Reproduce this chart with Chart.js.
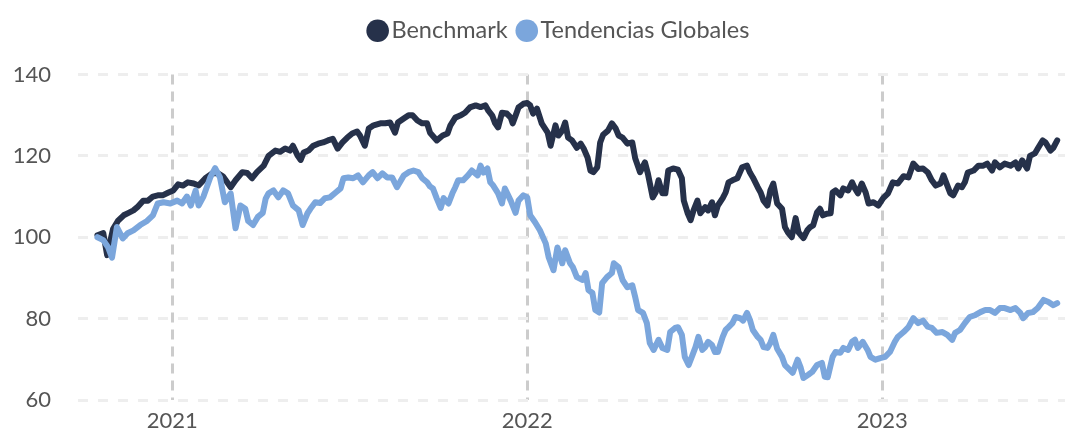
<!doctype html>
<html lang="es">
<head>
  <meta charset="utf-8">
  <title>Benchmark vs Tendencias Globales</title>
  <script src="https://cdn.jsdelivr.net/npm/chart.js"></script>
  <style>
    html, body {
      background-color: #ffffff;
      margin: 0;
      padding: 0;
    }
    #chartBox {
      width: 1070px;
      height: 434px;
    }
  </style>
</head>
<body>
  <div id="chartBox">
    <canvas id="grafico"></canvas>
  </div>

  <script>
    // Días desde el 1 de enero de 2021 y valor índice (base 100)
    const benchDays = [-77,-71,-67,-61,-56,-50,-45,-40,-36,-30,-25,-20,-15,-10,-4,1,6,11,16,22,27,34,41,47,52,60,65,72,77,82,87,94,99,106,111,116,121,124,129,132,135,140,145,150,155,160,165,170,175,180,185,190,193,198,202,207,214,219,224,229,232,238,243,247,252,257,262,265,272,278,283,286,291,296,301,306,312,317,322,325,329,332,335,339,344,348,350,353,356,361,365,368,371,375,380,386,389,394,397,401,404,407,411,416,420,423,427,430,433,437,440,443,448,452,456,459,463,468,473,476,481,486,489,494,497,500,504,507,510,515,520,524,526,530,533,536,540,543,548,551,555,558,561,566,569,572,576,581,586,591,594,597,602,605,608,612,615,618,622,627,630,633,637,641,644,649,653,656,659,663,666,669,673,677,679,682,687,690,695,699,702,705,709,713,716,721,726,731,736,741,746,752,757,762,767,772,777,781,785,790,793,797,800,803,808,812,815,818,824,829,834,838,843,846,851,856,862,867,870,874,879,882,887,890,895,898,903,906,910];
    const benchValues = [100.5,101,95.6,102,104,105.4,106,106.6,107.4,109,109,110,110.3,110.3,111,111.5,113,112.7,113.5,113.2,112.7,114.5,115.7,115.7,115,112.3,114,116,115.8,114.5,116,117.6,120,121.3,121,121.8,121.3,122.5,120,119,120.8,121.3,122.5,123,123.3,123.8,124.2,121.8,123.3,124.5,125.5,126,125,122.5,126.7,127.5,128,128,128.2,125.7,128.2,129.2,130,130,128.7,128,128,125.7,123.8,125,125.5,127.5,129.4,129.9,130.6,131.9,132.4,132,132.4,131.1,129.9,128,127,130.6,130.4,129.4,128,129.9,131.9,132.8,133,132.4,130.4,131.6,127.9,125.7,122.5,127.5,125,126.2,128.2,124.5,123.8,122,123,121.8,119.6,116.4,116,117.2,123.3,125.2,126.2,128,126.7,125,124.5,123,123.3,119.4,116,118.4,115.7,109.8,111,114,110.8,110.8,116.4,116.9,116.6,114.5,109,105.9,104.2,106.6,109,105.9,107.4,106.6,108.6,105.4,107.8,109.6,111,113.5,114,114.5,117.2,117.6,115.9,114.7,112.3,111,109,107.8,111.5,113.2,108.3,107,102.5,101.2,100,104.7,101.2,99.8,101.7,102.5,102.9,106.1,107,105.4,105.8,105.9,111,111.5,110.3,112,111.5,113.5,112,110.8,113.2,111,108.3,108.6,107.8,109.6,110.8,113.5,113.2,115,114.7,118.1,116.8,116.9,115.9,114,112.7,113.2,115.2,112.7,110.8,110.3,112.7,112.3,113.5,115.9,116.4,117.6,117.6,118.1,116.4,118.4,117.2,118.1,117.6,118.4,116.9,118.9,116.9,120,120.6,121.8,123.8,123.3,121.3,122,123.8];

    const trendDays = [-77,-71,-66,-62,-57,-51,-46,-40,-33,-26,-20,-15,-9,-2,5,10,15,19,24,27,32,39,44,49,54,60,65,70,75,78,83,88,93,96,99,104,109,114,119,124,130,134,139,142,147,152,157,162,168,173,176,181,186,191,196,202,206,211,216,221,226,231,234,238,243,248,253,257,262,265,268,272,276,279,284,288,291,294,299,304,308,314,317,320,324,327,330,335,339,342,348,353,356,361,365,368,373,378,384,387,392,396,401,404,409,412,416,422,425,428,432,435,439,442,447,452,454,459,463,468,473,476,479,484,488,491,495,500,504,509,512,517,520,524,527,531,535,538,541,545,548,551,555,558,561,566,569,572,576,579,584,587,591,594,597,602,605,608,612,615,618,622,627,630,635,638,643,646,649,654,658,663,668,671,674,679,682,687,690,695,699,702,705,710,715,718,723,728,733,738,743,746,752,757,762,767,772,777,781,786,792,797,802,805,810,815,820,826,831,836,841,846,851,856,862,867,872,875,880,885,890,896,901,906,910];
    const trendValues = [100,99.3,97.5,95,102.5,99.7,101,101.7,103,104,105.4,108.3,108.6,108.3,109,108.3,110,107.8,111.5,107.8,110,114.7,117,114.7,108.6,110.8,102.2,107.8,107,104,103,105,106,109.5,110.8,111.5,109.8,111.5,110.8,107.8,106.6,103,105.9,107,108.6,108.4,109.6,109.8,111,112,114.5,114.7,114.5,115.2,113.5,115.2,116,114.5,115.7,114.7,114.7,112.3,113.5,115.2,116,116.4,116,114.5,113.5,112.5,112,109.5,107.2,109.6,108.3,110.8,112.3,114,114,115.2,116.4,115.2,117.6,115.9,116.9,113.5,112.7,110.8,108.3,112,109,106,109,110.3,109.8,105.4,103.7,101.7,98.5,95.1,91.9,97.5,93.6,96.8,93.6,92.6,90.2,89.5,91.2,87,86.3,82.1,81.5,88.7,90.2,91.2,93.6,92.6,89.5,87.7,88.2,85.3,82.1,81.4,78.9,74,72.3,74.8,72.8,72.3,76.7,77.7,77.9,76,70.6,68.6,71.1,73,75.5,72.3,73,74.3,73.5,71.8,71.8,75.5,77.2,77.9,78.9,80.4,80.1,79.5,81.4,79.7,77.2,75.5,74.8,73,72.8,74,76,72.6,70.6,68.6,67.4,66.7,69.9,68.1,65.4,66.2,66.9,68.6,69.1,65.7,65.6,70.6,71.8,71.6,72.8,72.3,74.3,74.8,72.8,74.3,72.3,70.6,69.9,70.3,70.6,71.8,74.3,75.5,76.7,77.9,80.1,78.9,79.5,78,77.7,76.5,76.7,76,74.8,76.5,77.2,78.9,80.4,80.9,81.6,82.1,82.1,81.4,82.6,82.6,82.1,82.6,81.4,80.1,81.4,81.6,82.6,84.6,84.1,83.3,83.8];

    // Marcas del eje X (inicio de cada año) y del eje Y
    const yearTicks = [0, 365, 730];
    const yearLabels = ["2021", "2022", "2023"];
    const yTicks = [60, 80, 100, 120, 140];

    const toPoints = (days, vals) => days.map((d, i) => ({ x: d, y: vals[i] }));

    // Separación extra entre la leyenda y el área del gráfico, y leyenda algo a la derecha
    const legendGap = {
      id: "legendGap",
      beforeInit(chart) {
        const fitOriginal = chart.legend.fit;
        chart.legend.fit = function () {
          fitOriginal.bind(chart.legend)();
          this.height += 22;
        };
      },
      afterLayout(chart) {
        chart.legend.left += 60;
      }
    };

    Chart.defaults.font.family = "Lato";
    Chart.defaults.color = "#555555";

    new Chart(document.getElementById("grafico"), {
      type: "line",
      data: {
        datasets: [
          {
            label: "Tendencias Globales",
            data: toPoints(trendDays, trendValues),
            borderColor: "#7ba6dc",
            backgroundColor: "#7ba6dc",
            borderWidth: 6,
            pointRadius: 0,
            tension: 0,
            borderJoinStyle: "round",
            borderCapStyle: "round"
          },
          {
            label: "Benchmark",
            data: toPoints(benchDays, benchValues),
            borderColor: "#26314a",
            backgroundColor: "#26314a",
            borderWidth: 6,
            pointRadius: 0,
            tension: 0,
            borderJoinStyle: "round",
            borderCapStyle: "round"
          }
        ]
      },
      options: {
        responsive: true,
        maintainAspectRatio: false,
        animation: false,
        layout: {
          padding: { top: 2, right: 5, left: 0, bottom: 0 }
        },
        plugins: {
          tooltip: { enabled: false },
          legend: {
            position: "top",
            reverse: true,
            labels: {
              usePointStyle: true,
              pointStyle: "circle",
              boxWidth: 4,
              boxHeight: 16,
              padding: 17,
              font: { size: 23.5 },
              color: "#555555",
              generateLabels(chart) {
                const items = Chart.defaults.plugins.legend.labels.generateLabels(chart);
                items.forEach(it => { it.lineWidth = 0; });
                return items;
              }
            }
          }
        },
        scales: {
          x: {
            type: "linear",
            min: -97,
            max: 918,
            afterBuildTicks(scale) {
              scale.ticks = yearTicks.map(v => ({ value: v }));
            },
            afterFit(scale) {
              scale.height = 34;
            },
            ticks: {
              autoSkip: false,
              maxRotation: 0,
              padding: 8,
              font: { size: 22 },
              callback(value) {
                const i = yearTicks.indexOf(value);
                return i >= 0 ? yearLabels[i] : "";
              }
            },
            grid: {
              color: "#cccccc",
              lineWidth: 3,
              drawTicks: false
            },
            border: { display: false, dash: [10, 7] }
          },
          y: {
            min: 60,
            max: 140,
            afterBuildTicks(scale) {
              scale.ticks = yTicks.map(v => ({ value: v }));
            },
            afterFit(scale) {
              scale.width = 78;
              // sin reserva extra bajo el eje: la etiqueta 60 cae junto a la del año
              scale.paddingTop = 0;
              scale.paddingBottom = 0;
            },
            ticks: {
              padding: 27,
              font: { size: 22 }
            },
            grid: {
              color: "#eeeeee",
              lineWidth: 3,
              drawTicks: false
            },
            border: { display: false, dash: [10, 10] }
          }
        }
      },
      plugins: [legendGap]
    });
  </script>
</body>
</html>
